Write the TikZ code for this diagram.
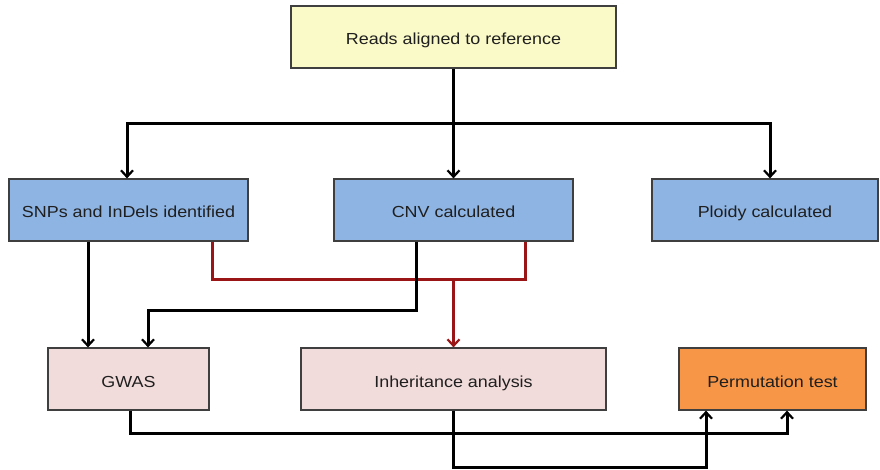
\documentclass[tikz,border=0pt]{standalone}
\usepackage{fontspec}
\setmainfont{Liberation Sans}[FakeStretch=1.12]
\usetikzlibrary{arrows.meta}
\definecolor{yfill}{HTML}{FAF9C8}
\definecolor{bfill}{HTML}{8EB4E3}
\definecolor{pfill}{HTML}{F2DCDB}
\definecolor{ofill}{HTML}{F79646}
\definecolor{bord}{HTML}{3F3F3F}
\definecolor{redline}{HTML}{9A1515}
\begin{document}
\begin{tikzpicture}[x=1pt,y=-1pt,
  box/.style={draw=bord,line width=1.2pt,minimum height=62pt,inner sep=0pt,text height=17pt,text depth=1pt,font=\fontsize{16}{19}\selectfont,text=black!88},
  conn/.style={line width=3pt,black},
  rconn/.style={line width=3pt,redline},
  arr/.style={-{Straight Barb[length=6.5pt,width=12pt,line width=2.2pt]}}]
\useasboundingbox (0,0) rectangle (880,470);
\node[box,fill=yfill,minimum width=325pt] (reads) at (453.5,37) {Reads aligned to reference};
\node[box,fill=bfill,minimum width=239pt] (snp) at (128.5,210) {SNPs and InDels identified};
\node[box,fill=bfill,minimum width=239pt] (cnv) at (453.5,210) {CNV calculated};
\node[box,fill=bfill,minimum width=226pt] (ploidy) at (765,210) {Ploidy calculated};
\node[box,fill=pfill,minimum width=161pt] (gwas) at (128.5,379) {GWAS};
\node[box,fill=pfill,minimum width=305pt] (inh) at (453.5,379) {Inheritance analysis};
\node[box,fill=ofill,minimum width=187pt] (perm) at (772.5,379) {Permutation test};
\coordinate (hub) at (453.5,124);
\coordinate (rhub) at (453.5,279);
% top fan-out
\draw[conn] (reads.south) -- (hub);
\draw[conn,arr] (hub) -| (snp.north -| 127,0);
\draw[conn,arr] (hub) -- (cnv.north);
\draw[conn,arr] (hub) -| (ploidy.north -| 770,0);
% red lines
\draw[rconn] (snp.south -| 212,0) |- (rhub);
\draw[rconn] (cnv.south -| 525,0) |- (rhub);
\draw[rconn,arr] (rhub) -- (inh.north);
% black to GWAS
\draw[conn,arr] (snp.south -| 88,0) -- (gwas.north -| 88,0);
\draw[conn,arr] (cnv.south -| 416,0) |- (148,310) -- (gwas.north -| 148,0);
% to permutation
\draw[conn,arr] (gwas.south -| 130,0) |- (787,433) -- (perm.south -| 787,0);
\draw[conn,arr] (inh.south) |- (706,467) -- (perm.south -| 706,0);
\end{tikzpicture}
\end{document}
